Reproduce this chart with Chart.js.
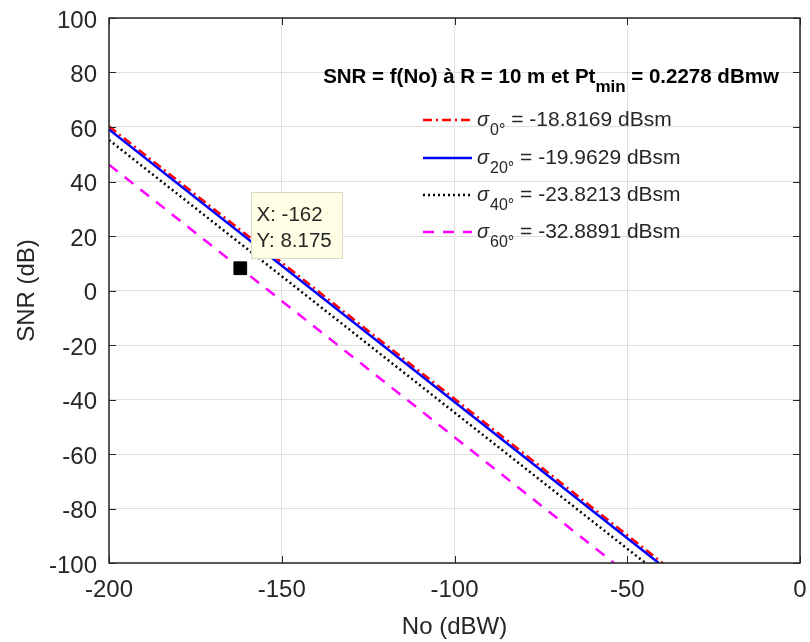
<!DOCTYPE html>
<html>
<head>
<meta charset="utf-8">
<script src="https://cdn.jsdelivr.net/npm/chart.js@4/dist/chart.umd.min.js"></script>
<style>
  html, body { margin: 0; padding: 0; background: #ffffff; }
  #wrap { width: 810px; height: 642px; }
</style>
</head>
<body>
<div id="wrap"><canvas id="c" width="810" height="642"></canvas></div>
<script>
// Noise power (dBW) and resulting SNR (dB) for each radar cross-section angle
const noSigma0 = [-200, -39.755];
const snrSigma0 = [60.245, -100];
const noSigma20 = [-200, -40.901];
const snrSigma20 = [59.099, -100];
const noSigma40 = [-200, -44.759];
const snrSigma40 = [55.241, -100];
const noSigma60 = [-200, -53.825];
const snrSigma60 = [46.175, -100];

// Data cursor
const cursorX = -162;
const cursorY = 8.175;

// Legend text
const seriesSub = ['0°', '20°', '40°', '60°'];
const seriesRcs = ['-18.8169', '-19.9629', '-23.8213', '-32.8891'];
const plotTitle = ['SNR = f(No) à R = 10 m et Pt', 'min', ' = 0.2278 dBmw'];

const xTicks = [-200, -150, -100, -50, 0];
const yTicks = [-100, -80, -60, -40, -20, 0, 20, 40, 60, 80, 100];

const TXT = '#262626';
const FONT = 'Liberation Sans, Arial, sans-serif';

function pts(xs, ys) { return xs.map((x, i) => ({ x: x, y: ys[i] })); }

const styles = [
  { color: '#ff0000', dash: [9, 4, 2, 4] },
  { color: '#0000ff', dash: [] },
  { color: '#000000', dash: [2, 3] },
  { color: '#ff00ff', dash: [11, 9] }
];

// Box, inward tick marks, in-plot title, legend and data tip
const decorations = {
  id: 'decorations',
  afterDatasetsDraw(chart) {
    const ctx = chart.ctx;
    const a = chart.chartArea;
    const xs = chart.scales.x, ys = chart.scales.y;
    ctx.save();
    // inward ticks on all four sides
    ctx.strokeStyle = TXT;
    ctx.lineWidth = 1;
    const tl = 7;
    ctx.beginPath();
    xTicks.forEach(v => {
      const px = Math.round(xs.getPixelForValue(v)) + 0.5;
      ctx.moveTo(px, a.bottom); ctx.lineTo(px, a.bottom - tl);
      ctx.moveTo(px, a.top); ctx.lineTo(px, a.top + tl);
    });
    yTicks.forEach(v => {
      const py = Math.round(ys.getPixelForValue(v)) + 0.5;
      ctx.moveTo(a.left, py); ctx.lineTo(a.left + tl, py);
      ctx.moveTo(a.right, py); ctx.lineTo(a.right - tl, py);
    });
    ctx.stroke();
    // axes box
    ctx.lineWidth = 1.5;
    ctx.strokeRect(a.left, a.top, a.right - a.left, a.bottom - a.top);

    // title inside the plot
    ctx.fillStyle = '#000000';
    ctx.textBaseline = 'alphabetic';
    ctx.textAlign = 'left';
    const bold = 'bold 20.5px ' + FONT;
    const boldSub = 'bold 17px ' + FONT;
    ctx.font = bold;
    const w0 = ctx.measureText(plotTitle[0]).width;
    const w2 = ctx.measureText(plotTitle[2]).width;
    ctx.font = boldSub;
    const w1 = ctx.measureText(plotTitle[1]).width;
    const total = w0 + w1 + w2;
    let tx = 551 - total / 2;
    const tBase = 83;
    ctx.font = bold; ctx.fillText(plotTitle[0], tx, tBase); tx += w0;
    ctx.font = boldSub; ctx.fillText(plotTitle[1], tx, tBase + 9); tx += w1;
    ctx.font = bold; ctx.fillText(plotTitle[2], tx, tBase);

    // legend
    const rows = [120, 158, 195, 232];
    rows.forEach((ly, i) => {
      const st = styles[i];
      ctx.strokeStyle = st.color;
      ctx.lineWidth = 2.5;
      ctx.setLineDash(st.dash);
      ctx.beginPath();
      ctx.moveTo(423, ly); ctx.lineTo(472, ly);
      ctx.stroke();
      ctx.setLineDash([]);
      ctx.fillStyle = TXT;
      let lx = 477;
      ctx.font = 'italic 20px ' + FONT;
      ctx.fillText('σ', lx, ly + 6);
      lx += ctx.measureText('σ').width + 1;
      ctx.font = '16px ' + FONT;
      ctx.fillText(seriesSub[i], lx, ly + 15);
      lx += ctx.measureText(seriesSub[i]).width;
      ctx.font = '21px ' + FONT;
      ctx.fillText(' = ' + seriesRcs[i] + ' dBsm', lx, ly + 6);
    });

    // data tip
    const mx = xs.getPixelForValue(cursorX);
    const my = ys.getPixelForValue(cursorY);
    const bx = Math.round(mx + 11) + 0.5, by = Math.round(my - 76) + 0.5;
    const bw = 91, bh = 66;
    ctx.fillStyle = '#ffffe6';
    ctx.fillRect(bx, by, bw, bh);
    ctx.strokeStyle = '#d8d8c8';
    ctx.lineWidth = 1;
    ctx.strokeRect(bx, by, bw, bh);
    ctx.fillStyle = TXT;
    ctx.font = '20.5px ' + FONT;
    ctx.fillText('X: ' + cursorX, bx + 5, by + 28);
    ctx.fillText('Y: ' + cursorY, bx + 5, by + 54);
    ctx.restore();
  }
};

const datasets = [
  { data: pts(noSigma0, snrSigma0) },
  { data: pts(noSigma20, snrSigma20) },
  { data: pts(noSigma40, snrSigma40) },
  { data: pts(noSigma60, snrSigma60) }
].map((d, i) => Object.assign(d, {
  showLine: true,
  borderColor: styles[i].color,
  borderDash: styles[i].dash,
  borderWidth: 2.5,
  pointRadius: 0,
  fill: false,
  order: 4 - i
}));

datasets.push({
  data: [{ x: cursorX, y: cursorY }],
  showLine: false,
  pointStyle: 'rect',
  pointRadius: 9,
  pointBackgroundColor: '#000000',
  pointBorderColor: '#000000',
  pointBorderWidth: 1,
  order: 0
});

const tickFont = { family: FONT, size: 24 };

new Chart(document.getElementById('c'), {
  type: 'scatter',
  data: { datasets: datasets },
  options: {
    responsive: false,
    animation: false,
    devicePixelRatio: 1,
    layout: { padding: { top: 18, right: 6, left: 0, bottom: 0 } },
    plugins: { legend: { display: false }, tooltip: { enabled: false } },
    scales: {
      x: {
        type: 'linear', min: -200, max: 0,
        afterBuildTicks(s) { s.ticks = xTicks.map(v => ({ value: v })); },
        afterFit(s) { s.height = 79; s.paddingLeft = 0; s.paddingRight = 0; },
        grid: { color: '#e0e0e0', lineWidth: 1, drawTicks: false },
        border: { display: false },
        ticks: { color: TXT, font: tickFont, padding: 13, maxRotation: 0 },
        title: { display: true, text: 'No (dBW)', color: TXT, font: tickFont, padding: { top: 2, bottom: 0 } }
      },
      y: {
        type: 'linear', min: -100, max: 100,
        afterBuildTicks(s) { s.ticks = yTicks.map(v => ({ value: v })); },
        afterFit(s) { s.width = 109; s.paddingTop = 0; s.paddingBottom = 0; },
        grid: { color: '#e0e0e0', lineWidth: 1, drawTicks: false },
        border: { display: false },
        ticks: { color: TXT, font: tickFont, padding: 12, labelOffset: 3 },
        title: { display: true, text: 'SNR (dB)', color: TXT, font: tickFont, padding: { top: 13, bottom: 0 } }
      }
    }
  },
  plugins: [decorations]
});
</script>
</body>
</html>
